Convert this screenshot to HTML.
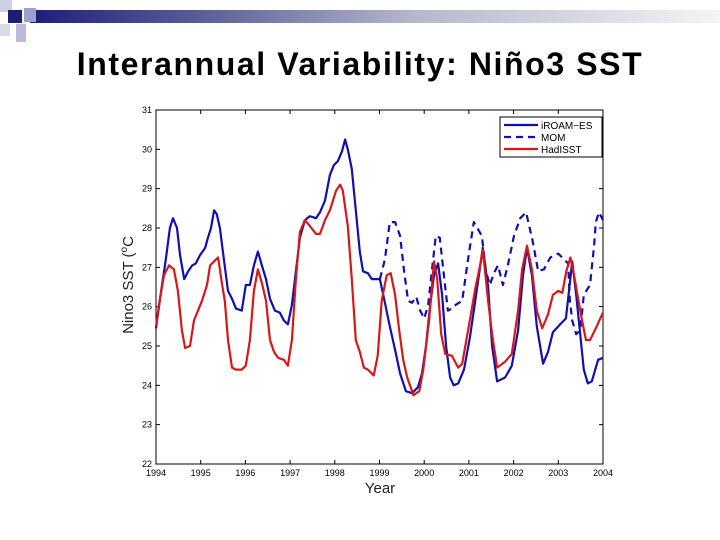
<!DOCTYPE html>
<html><head><meta charset="utf-8"><style>
body{margin:0;width:720px;height:540px;background:#fff;overflow:hidden;font-family:"Liberation Sans",sans-serif;position:relative}
.sq{position:absolute}
</style></head><body>
<div style="position:absolute;left:30px;top:10px;width:690px;height:13px;background:linear-gradient(to right,#1c1f78 0%,#5a5f96 25%,#b4b6cc 55%,#f4f4f8 100%)"></div>
<div class="sq" style="left:0;top:0;width:12px;height:12px;background:#cfd0e6"></div>
<div class="sq" style="left:8px;top:10px;width:14px;height:13px;background:#1c1f78"></div>
<div class="sq" style="left:24px;top:8px;width:12px;height:14px;background:#9da0cc"></div>
<div class="sq" style="left:0;top:24px;width:10px;height:12px;background:#d9dbec"></div>
<div class="sq" style="left:16px;top:24px;width:10px;height:18px;background:#b9bbdb"></div>
<div style="position:absolute;left:0;width:720px;top:46px;text-align:center;font-weight:bold;font-size:32px;color:#000;letter-spacing:1.6px">Interannual Variability: Niño3 SST</div>
<svg id="chart" width="720" height="540" style="position:absolute;left:0;top:0" font-family="Liberation Sans, sans-serif"></svg>
<script>
const xTicks=[1994,1995,1996,1997,1998,1999,2000,2001,2002,2003,2004];
const yTicks=[22,23,24,25,26,27,28,29,30,31];
const iroamT=[1994.00,1994.09,1994.22,1994.31,1994.38,1994.47,1994.54,1994.63,1994.72,1994.81,1994.89,1994.98,1995.10,1995.16,1995.23,1995.30,1995.36,1995.43,1995.52,1995.61,1995.70,1995.79,1995.92,1996.01,1996.10,1996.19,1996.28,1996.37,1996.46,1996.55,1996.66,1996.77,1996.86,1996.95,1997.04,1997.13,1997.22,1997.33,1997.44,1997.58,1997.67,1997.78,1997.89,1997.98,1998.07,1998.16,1998.23,1998.29,1998.38,1998.47,1998.56,1998.63,1998.74,1998.83,1998.92,1999.01,1999.12,1999.23,1999.35,1999.46,1999.59,1999.73,1999.86,1999.95,2000.04,2000.13,2000.22,2000.31,2000.40,2000.49,2000.58,2000.66,2000.76,2000.89,2001.02,2001.16,2001.31,2001.43,2001.52,2001.63,2001.81,2001.96,2002.10,2002.21,2002.30,2002.41,2002.52,2002.66,2002.77,2002.88,2003.04,2003.17,2003.24,2003.31,2003.40,2003.49,2003.57,2003.66,2003.75,2003.89,2004.00];
const iroamV=[25.45,26.2,27.2,28.0,28.25,28.0,27.3,26.7,26.9,27.05,27.1,27.3,27.5,27.75,28.0,28.45,28.35,28.0,27.2,26.4,26.2,25.95,25.9,26.55,26.55,27.05,27.4,27.05,26.7,26.2,25.9,25.85,25.65,25.55,26.05,26.9,27.75,28.2,28.3,28.25,28.4,28.7,29.35,29.6,29.7,29.95,30.25,30.0,29.5,28.45,27.4,26.9,26.85,26.7,26.7,26.7,26.1,25.5,24.9,24.3,23.85,23.8,23.95,24.3,25.0,26.0,26.8,27.1,26.3,25.0,24.2,24.0,24.05,24.4,25.2,26.3,27.5,26.5,25.0,24.1,24.2,24.5,25.4,26.8,27.5,26.8,25.5,24.55,24.85,25.35,25.55,25.7,26.4,27.15,26.3,25.3,24.4,24.05,24.1,24.65,24.7];
const momT=[1999.01,1999.12,1999.23,1999.35,1999.46,1999.55,1999.64,1999.73,1999.82,1999.91,2000.00,2000.09,2000.17,2000.26,2000.35,2000.44,2000.53,2000.62,2000.71,2000.85,2000.98,2001.11,2001.29,2001.38,2001.47,2001.56,2001.65,2001.76,2001.87,2002.01,2002.15,2002.28,2002.42,2002.55,2002.68,2002.82,2003.00,2003.13,2003.22,2003.26,2003.31,2003.40,2003.49,2003.57,2003.71,2003.80,2003.84,2003.91,2004.00];
const momV=[26.7,27.2,28.15,28.15,27.8,26.9,26.15,26.1,26.25,25.9,25.7,26.05,26.9,27.8,27.75,26.8,25.9,25.95,26.05,26.15,27.2,28.15,27.8,26.9,26.55,26.85,27.05,26.55,27.05,27.8,28.25,28.4,27.7,26.9,26.95,27.25,27.35,27.2,27.1,26.15,25.65,25.3,25.4,26.3,26.55,27.55,28.15,28.4,28.2];
const hadT=[1994.00,1994.09,1994.18,1994.29,1994.40,1994.49,1994.58,1994.65,1994.76,1994.85,1994.94,1995.03,1995.14,1995.21,1995.30,1995.39,1995.48,1995.54,1995.61,1995.70,1995.79,1995.92,1996.01,1996.10,1996.19,1996.28,1996.37,1996.46,1996.55,1996.64,1996.73,1996.86,1996.95,1997.04,1997.13,1997.22,1997.33,1997.44,1997.58,1997.67,1997.78,1997.89,1998.03,1998.12,1998.18,1998.29,1998.38,1998.47,1998.56,1998.65,1998.74,1998.87,1998.96,1999.05,1999.16,1999.25,1999.35,1999.44,1999.53,1999.62,1999.76,1999.89,1999.98,2000.11,2000.22,2000.29,2000.38,2000.47,2000.62,2000.76,2000.85,2001.02,2001.14,2001.25,2001.31,2001.43,2001.52,2001.63,2001.81,2001.96,2002.10,2002.19,2002.30,2002.41,2002.52,2002.64,2002.77,2002.88,2003.00,2003.09,2003.18,2003.27,2003.36,2003.53,2003.62,2003.71,2003.84,2004.00];
const hadV=[25.5,26.2,26.8,27.05,26.95,26.4,25.4,24.95,25.0,25.65,25.9,26.15,26.55,27.05,27.15,27.25,26.55,26.15,25.15,24.45,24.4,24.4,24.5,25.15,26.4,26.95,26.6,26.15,25.15,24.85,24.7,24.65,24.5,25.15,26.7,27.9,28.2,28.05,27.85,27.85,28.2,28.45,28.95,29.1,28.95,28.05,26.7,25.15,24.85,24.45,24.4,24.25,24.75,26.15,26.8,26.85,26.3,25.4,24.65,24.2,23.75,23.85,24.4,25.65,27.15,26.7,25.3,24.8,24.75,24.45,24.55,25.65,26.45,27.05,27.45,26.15,25.3,24.45,24.6,24.8,25.9,26.95,27.55,26.95,25.9,25.45,25.8,26.3,26.4,26.35,26.9,27.25,26.75,25.65,25.15,25.15,25.45,25.85];

const L=156,R=603,T=110,B=464;
const sx=v=>L+(v-1994)/10*(R-L);
const sy=v=>B-(v-22)/9*(B-T);
const svg=document.getElementById('chart');
const NS='http://www.w3.org/2000/svg';
function mk(tag,attrs,parent){const e=document.createElementNS(NS,tag);for(const k in attrs)e.setAttribute(k,attrs[k]);(parent||svg).appendChild(e);return e;}
const box=mk('rect',{x:L,y:T,width:R-L,height:B-T,fill:'#fff',stroke:'#000','stroke-width':1});


xTicks.forEach(t=>{
  const x=sx(t);
  const tk=mk('path',{d:`M${x} ${B}V${B-4}M${x} ${T}V${T+4}`,stroke:'#000','stroke-width':1});
  
  
  const lb=mk('text',{x:x,y:B+12,'font-size':9,'text-anchor':'middle',fill:'#000'});lb.textContent=t;
  
  
});
yTicks.forEach(t=>{
  const y=sy(t);
  const tk=mk('path',{d:`M${L} ${y}H${L+4}M${R} ${y}H${R-4}`,stroke:'#000','stroke-width':1});
  
  
  const lb=mk('text',{x:L-4,y:y+3,'font-size':9,'text-anchor':'end',fill:'#000'});lb.textContent=t;
  
  
});
function line(ts,vs,color,dash,name){
  const d=ts.map((t,i)=>(i?'L':'M')+sx(t).toFixed(1)+' '+sy(vs[i]).toFixed(1)).join('');
  const p=mk('path',{d:d,fill:'none',stroke:color,'stroke-width':2.2,'stroke-linejoin':'round'});
  if(dash)p.setAttribute('stroke-dasharray',dash);
  
  
}
line(momT,momV,'#1010b0','7 5','mom-line');
line(iroamT,iroamV,'#1010b0',null,'iroam-es-line');
line(hadT,hadV,'#d81818',null,'hadisst-line');
const lg=mk('g',{});


mk('rect',{x:500,y:117,width:102,height:40,fill:'#fff',stroke:'#000','stroke-width':1},lg);
[['iROAM−ES','#1010b0',null],['MOM','#1010b0','7 5'],['HadISST','#d81818',null]].forEach((e,i)=>{
  const y=125+i*12;
  const ln=mk('line',{x1:504,x2:538,y1:y,y2:y,stroke:e[1],'stroke-width':2.2},lg);
  if(e[2])ln.setAttribute('stroke-dasharray',e[2]);
  
  
  const tx=mk('text',{x:541,y:y+4,'font-size':10,fill:'#000'},lg);tx.textContent=e[0];
  
  
});
const xt=mk('text',{x:380,y:493,'font-size':15,'text-anchor':'middle',fill:'#222'});xt.textContent='Year';


const yt=mk('text',{x:0,y:0,'font-size':15,'text-anchor':'middle',fill:'#222',transform:'translate(133,285) rotate(-90)'});


yt.appendChild(document.createTextNode('Nino3 SST ('));
const sup=mk('tspan',{dy:-6,'font-size':10},yt);sup.textContent='o';
const c=mk('tspan',{dy:6},yt);c.textContent='C';
</script>
</body></html>
